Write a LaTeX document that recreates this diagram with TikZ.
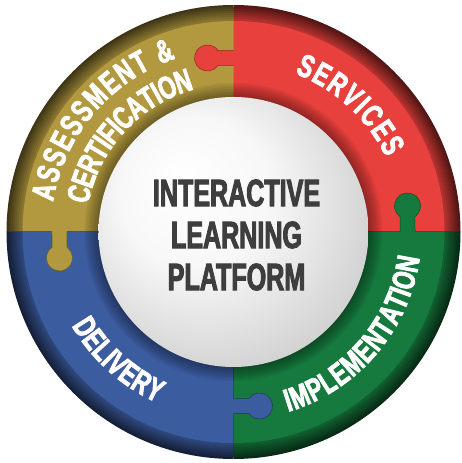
\documentclass[tikz,border=0pt]{standalone}
\usepackage{fontspec}
\usepackage{tikz}
\usetikzlibrary{decorations.text}
\newfontfamily\ringfont[FakeStretch=0.7,FakeBold=2.5]{Liberation Sans Bold}
\newfontfamily\titlefont[FakeStretch=0.66,FakeBold=2.5]{Liberation Sans Bold}
\definecolor{lpgold}{RGB}{178,152,62}
\definecolor{lpred}{RGB}{232,64,60}
\definecolor{lpgreen}{RGB}{22,122,62}
\definecolor{lpblue}{RGB}{60,92,160}
\definecolor{lpgray}{RGB}{62,62,62}
\pgfdeclareradialshading{centreglow}{\pgfpoint{-10bp}{10bp}}{color(0bp)=(white); color(14bp)=(white!97!black); color(50bp)=(gray!70)}
\tikzset{
  ringtext/.style={decorate, decoration={text along path, text align={fit to path}, text color=white, raise=-8,
    text={|\ringfont\fontsize{32}{32}\selectfont|#1}}},
}

\begin{document}
\begin{tikzpicture}[x=1pt,y=1pt]
  \useasboundingbox (-233.5,-231) rectangle (227.5,232);
  % Quadrants with darker bevelled rim
  \foreach \col/\a in {lpred/0, lpgold/90, lpblue/180, lpgreen/270} {
    \foreach \i in {0,...,7} {
      \pgfmathtruncatemacro\pct{35+6*\i}
      \pgfmathsetmacro\rr{227-2*\i}
      \fill[\col!\pct!black] (0,0) -- (\a:\rr) arc[start angle=\a, end angle=\a+90, radius=\rr] -- cycle;
    }
    \fill[\col] (0,0) -- (\a:211) arc[start angle=\a, end angle=\a+90, radius=211] -- cycle;
  }
  % Puzzle tabs, each pushed into the next quadrant
  \foreach \col/\phi in {lpred/90, lpgreen/0, lpblue/270, lpgold/180} {
    \begin{scope}[rotate=\phi]
      \fill[\col] (166.5,-1) -- (166.5,15.38) arc[start angle=234.8, end angle=-54.8, radius=13] -- (181.5,-1) -- cycle;
      \draw[\col!60!black, line width=0.5] (166.5,0) -- (166.5,15.38) arc[start angle=234.8, end angle=-54.8, radius=13] -- (181.5,0);
    \end{scope}
  }
  % Shadow round the centre
  \foreach \r in {137,139,...,149}
    \fill[black, opacity=0.06] (0,0) circle (\r);
  \shade[shading=centreglow] (0,0) circle (135);
  % Ring labels (path runs through the middle of the letters)
  \path[ringtext={ASSESSMENT {\&}}] (170.4:191) arc[start angle=170.4, end angle=108.6, radius=191];
  \path[ringtext={CERTIFICATION}] (169.1:156) arc[start angle=169.1, end angle=108.1, radius=156];
  \path[ringtext={SERVICES}] (68.7:178) arc[start angle=68.7, end angle=26.2, radius=178];
  \path[ringtext={IMPLEMENTATION}] (-73.1:180) arc[start angle=-73.1, end angle=-7.8, radius=180];
  \path[ringtext={DELIVERY}] (210:179) arc[start angle=210, end angle=246, radius=179];
  % Centre title
  \node[font=\titlefont\fontsize{38}{42}\selectfont, text=lpgray, align=center] (title) at (3,-3) {INTERACTIVE\\LEARNING\\PLATFORM};
\end{tikzpicture}
\end{document}
